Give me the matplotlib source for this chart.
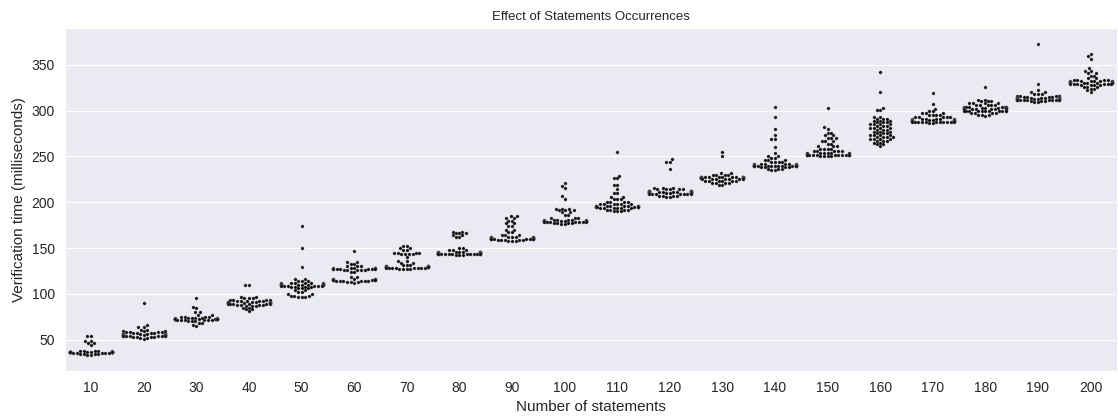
import matplotlib
matplotlib.use("Agg")
import matplotlib.pyplot as plt
import seaborn as sns
import pandas as pd

# number of statements (x categories)
statements = [10, 20, 30, 40, 50, 60, 70, 80, 90, 100,
              110, 120, 130, 140, 150, 160, 170, 180, 190, 200]

# verification times: (milliseconds, how many runs)
t10 = [(54, 2), (48, 2), (46, 2), (44, 1), (38, 5), (37, 15), (36, 12), (35, 5), (34, 4), (33, 2)]
t20 = [(90, 1), (66, 1), (64, 2), (61, 2), (59, 3), (58, 4), (57, 5), (56, 7), (55, 11), (54, 8),
       (53, 4), (52, 2), (51, 1)]
t30 = [(96, 1), (86, 1), (84, 1), (80, 2), (77, 2), (75, 4), (74, 6), (73, 10), (72, 11), (71, 6),
       (70, 3), (68, 2), (66, 1), (65, 1)]
t40 = [(110, 2), (97, 2), (95, 3), (93, 4), (92, 5), (91, 7), (90, 10), (89, 6), (88, 4), (87, 3),
       (85, 2), (83, 2), (81, 1)]
t50 = [(174, 1), (150, 1), (129, 1), (116, 2), (114, 3), (112, 6), (111, 7), (110, 7), (109, 6),
       (108, 4), (106, 3), (104, 2), (102, 2), (100, 2), (98, 3), (97, 3)]
t60 = [(147, 1), (135, 2), (133, 2), (130, 3), (128, 5), (127, 7), (126, 5), (124, 2), (118, 2),
       (116, 5), (115, 7), (114, 6), (113, 3), (112, 1)]
t70 = [(152, 2), (150, 2), (148, 2), (145, 4), (143, 4), (140, 1), (136, 2), (134, 2), (131, 3),
       (130, 7), (129, 10), (128, 8), (127, 4)]
t80 = [(168, 2), (166, 3), (164, 2), (162, 2), (150, 2), (148, 3), (146, 8), (145, 13), (144, 9),
       (143, 5), (142, 3)]
t90 = [(185, 2), (183, 2), (180, 2), (177, 2), (174, 2), (170, 2), (167, 2), (164, 3), (162, 7),
       (161, 11), (160, 10), (159, 5), (158, 3)]
t100 = [(221, 1), (218, 1), (215, 1), (207, 1), (204, 1), (193, 3), (191, 3), (189, 2), (186, 2),
        (183, 3), (181, 6), (180, 8), (179, 8), (178, 7), (177, 4), (176, 2)]
t110 = [(255, 1), (229, 1), (226, 2), (219, 2), (214, 1), (210, 2), (206, 2), (203, 3), (200, 4),
        (198, 6), (196, 8), (195, 7), (194, 6), (192, 4), (190, 3)]
t120 = [(247, 1), (244, 2), (236, 1), (216, 3), (214, 5), (212, 8), (211, 9), (210, 10), (209, 7),
        (207, 4), (206, 2)]
t130 = [(255, 1), (250, 1), (232, 2), (230, 4), (228, 7), (227, 8), (226, 9), (225, 7), (223, 6),
        (221, 4), (219, 2)]
t140 = [(304, 1), (293, 1), (280, 1), (273, 1), (269, 2), (260, 1), (254, 1), (250, 2), (248, 2),
        (246, 3), (244, 4), (242, 6), (241, 7), (240, 7), (239, 6), (238, 4), (236, 3), (235, 2)]
t150 = [(303, 1), (282, 1), (280, 1), (276, 2), (273, 2), (270, 3), (267, 3), (264, 2), (261, 3),
        (258, 4), (256, 5), (254, 6), (252, 9), (251, 6), (250, 4)]
t160 = [(342, 1), (320, 1), (303, 1), (301, 2), (293, 2), (291, 3), (289, 3), (287, 3), (285, 4),
        (283, 3), (281, 4), (279, 3), (277, 3), (275, 3), (273, 4), (271, 4), (269, 4), (267, 3),
        (265, 2), (263, 2), (261, 1)]
t170 = [(319, 1), (307, 1), (302, 1), (299, 2), (297, 3), (295, 4), (293, 5), (291, 6), (290, 8),
        (289, 9), (288, 7), (287, 4), (286, 2)]
t180 = [(326, 1), (312, 2), (310, 3), (308, 4), (306, 5), (304, 6), (303, 7), (302, 7), (300, 6),
        (299, 5), (297, 4), (295, 3), (294, 1)]
t190 = [(373, 1), (329, 1), (322, 1), (320, 2), (318, 3), (316, 5), (315, 6), (314, 8), (313, 9),
        (312, 7), (311, 4), (310, 3), (309, 2)]
t200 = [(362, 1), (359, 1), (356, 1), (346, 1), (343, 2), (341, 2), (338, 2), (335, 2), (333, 4),
        (332, 6), (331, 7), (330, 8), (329, 6), (328, 4), (326, 3), (324, 2), (322, 1), (320, 1)]

groups = [t10, t20, t30, t40, t50, t60, t70, t80, t90, t100,
          t110, t120, t130, t140, t150, t160, t170, t180, t190, t200]

rows = []
for n, g in zip(statements, groups):
    for v, c in g:
        rows += [(n, v)] * c
df = pd.DataFrame(rows, columns=["statements", "time"])

sns.set_style("darkgrid")
plt.rcParams["font.family"] = ["Liberation Sans", "DejaVu Sans"]

fig, ax = plt.subplots(figsize=(11.18, 4.19), dpi=100)
fig.subplots_adjust(left=0.058, right=0.999, top=0.933, bottom=0.115)

sns.swarmplot(data=df, x="statements", y="time", color="black", size=2.2,
              edgecolor="0.4", linewidth=0.3, ax=ax, warn_thresh=1)

ax.set_xlabel("Number of statements", fontsize=11, color=".15")
ax.set_ylabel("Verification time (milliseconds)", fontsize=11, color=".15")
ax.set_title("Effect of Statements Occurrences", fontsize=9.5, color=".15")
ax.tick_params(labelsize=10, labelcolor=".15")

fig.savefig("out.png", dpi=100)
